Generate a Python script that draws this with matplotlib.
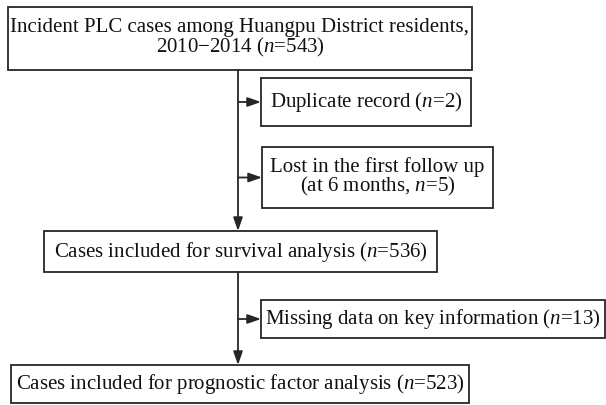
import matplotlib.pyplot as plt
from matplotlib.patches import Rectangle

plt.rcParams['font.family'] = ['Liberation Serif', 'DejaVu Serif']
plt.rcParams['mathtext.fontset'] = 'custom'
plt.rcParams['mathtext.rm'] = 'Liberation Serif'
plt.rcParams['mathtext.it'] = 'Liberation Serif:italic'

# Box texts and counts
main_labels = [
    "Incident PLC cases among Huangpu District residents,\n2010\u22122014 ($n$=543)",
    "Cases included for survival analysis ($n$=536)",
    "Cases included for prognostic factor analysis ($n$=523)",
]
side_labels = [
    "Duplicate record ($n$=2)",
    "Lost in the first follow up\n(at 6 months, $n$=5)",
    "Missing data on key information ($n$=13)",
]

# box geometry in pixels: x0, y0, x1, y1
main_boxes = [(8, 8, 472, 71), (44, 232, 437, 273), (11, 366, 469, 404)]
side_boxes = [(261, 79, 471, 127), (262, 148, 493, 209), (261, 301, 605, 339)]
spine_x = 238
edge = '#262626'
fs = 15

fig = plt.figure(figsize=(6.06, 4.06), dpi=100)
ax = fig.add_axes([0, 0, 1, 1])
ax.set_xlim(0, 606)
ax.set_ylim(406, 0)
ax.axis('off')

def draw_box(b, label):
    x0, y0, x1, y1 = b
    ax.add_patch(Rectangle((x0, y0), x1 - x0, y1 - y0, fill=False,
                           edgecolor=edge, linewidth=1.3))
    ax.text((x0 + x1) / 2, (y0 + y1) / 2 - 1, label, ha='center', va='center',
            fontsize=fs, color='#111111', linespacing=0.88)

for b, lab in zip(main_boxes, main_labels):
    draw_box(b, lab)
for b, lab in zip(side_boxes, side_labels):
    draw_box(b, lab)

arrow = dict(arrowstyle='-|>,head_length=0.8,head_width=0.28', color=edge,
             linewidth=1.3, shrinkA=0, shrinkB=0)

# vertical flow between main boxes
for top, bottom in zip(main_boxes[:-1], main_boxes[1:]):
    ax.annotate('', xy=(spine_x, bottom[1]), xytext=(spine_x, top[3]),
                arrowprops=arrow)

# side exclusions
for b in side_boxes:
    ym = (b[1] + b[3]) / 2
    ax.annotate('', xy=(b[0], ym), xytext=(spine_x, ym), arrowprops=arrow)

fig.savefig('out.png', dpi=100, facecolor='white')
